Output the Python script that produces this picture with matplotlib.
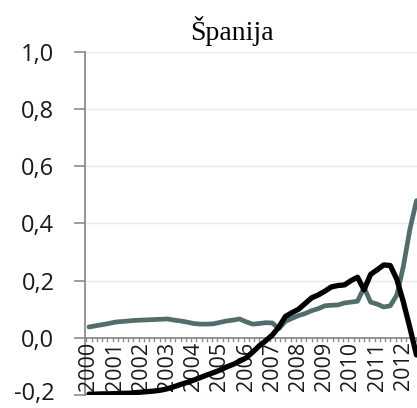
import numpy as np
import matplotlib
matplotlib.use('Agg')
import matplotlib.pyplot as plt
from matplotlib.transforms import ScaledTranslation

# quarterly observations, 2000Q1 .. 2012Q3
quarters = 2000 + np.arange(51) * 0.25
gray_series = [0.038, 0.042, 0.046, 0.050, 0.055, 0.057, 0.059, 0.061, 0.062, 0.063,
               0.064, 0.065, 0.066, 0.062, 0.059, 0.055, 0.050, 0.048, 0.048, 0.049,
               0.054, 0.059, 0.062, 0.066, 0.056, 0.048, 0.050, 0.053, 0.052, 0.032,
               0.058, 0.068, 0.078, 0.085, 0.095, 0.102, 0.112, 0.114, 0.115, 0.122,
               0.125, 0.128, 0.176, 0.125, 0.118, 0.108, 0.112, 0.150, 0.250, 0.380,
               0.480]
black_series = [-0.197, -0.197, -0.196, -0.196, -0.195, -0.194, -0.194, -0.192, -0.190, -0.188,
                -0.186, -0.183, -0.178, -0.171, -0.163, -0.156, -0.148, -0.139, -0.130, -0.122,
                -0.113, -0.102, -0.093, -0.082, -0.070, -0.050, -0.028, -0.010, 0.010, 0.038,
                0.075, 0.088, 0.100, 0.120, 0.140, 0.150, 0.163, 0.178, 0.183, 0.185,
                0.200, 0.212, 0.168, 0.222, 0.238, 0.255, 0.253, 0.205, 0.125, 0.035,
                -0.060]
years = list(range(2000, 2013))
yticks = [-0.2, 0.0, 0.2, 0.4, 0.6, 0.8, 1.0]
title = 'Španija'

fig = plt.figure(figsize=(4.17, 4.08), dpi=100)
ax = fig.add_axes([85/417, 13/408, 332/417, 343/408])

ax.set_ylim(-0.2, 1.0)
ax.set_xlim(1999.85, 2012.52)

for y in yticks:
    if y != 0:
        ax.axhline(y, color='#e8e8e8', lw=1, zorder=0)

ax.plot(quarters, gray_series, color='#536c6c', lw=3.4, solid_capstyle='round', zorder=3)
ax.plot(quarters, black_series, color='black', lw=3.8, solid_capstyle='round', zorder=4)

# x axis drawn at zero like a category axis
ax.axhline(0, color='#8c8c8c', lw=1.3, zorder=2)
for s in ['top', 'right', 'bottom']:
    ax.spines[s].set_visible(False)
ax.spines['left'].set_color('#8c8c8c')
ax.spines['left'].set_linewidth(1.3)

ax.set_yticks(yticks)
ax.set_yticklabels([('%.1f' % v).replace('.', ',') for v in yticks],
                   fontsize=17, family='Open Sans', color='#1a1a1a')
ax.tick_params(axis='y', length=8, width=1.2, color='#8c8c8c', pad=14)
# lift the bottom label a touch so it stays inside the image
lab = ax.get_yticklabels()[0]
lab.set_transform(lab.get_transform() + ScaledTranslation(0, 4/100, fig.dpi_scale_trans))

ax.set_xticks([])
minor = np.arange(1999.9, 2012.6, 0.2)
for m in minor:
    ax.plot([m, m], [0, -0.012], color='#8c8c8c', lw=1, zorder=2, clip_on=False)
for yr in years:
    ax.text(yr, -0.013, str(yr), rotation=90, ha='center', va='top',
            fontsize=15.5, family='Open Sans', color='#1a1a1a')

fig.text(232/417, 368/408, title, ha='center', va='baseline',
         fontsize=20, family='Liberation Serif', color='black')

fig.savefig('out.png', dpi=100)
